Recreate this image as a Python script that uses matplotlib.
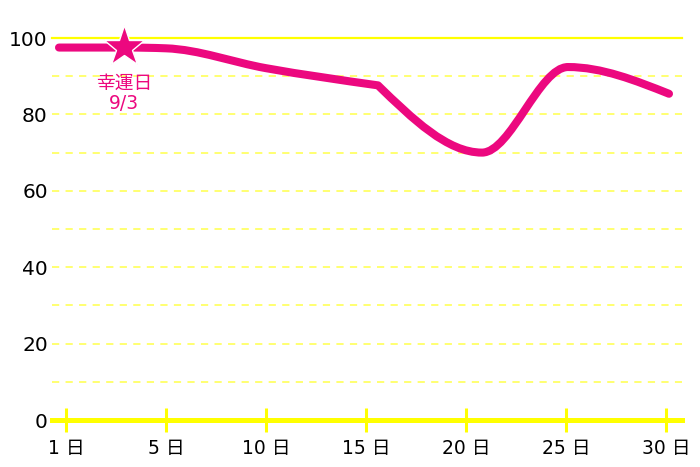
import matplotlib.pyplot as plt
from matplotlib.path import Path
from matplotlib.patches import PathPatch
import numpy as np

plt.rcParams['font.family'] = ['DejaVu Sans', 'Noto Sans CJK JP']

# Data
days = [-0.35, 3, 5, 10, 15.6, 20.8, 25.1, 30.15]
values = [97.5, 97.5, 97.3, 92.1, 87.6, 70.0, 92.4, 85.4]
kink_index = 4  # curve has a corner at this point
tick_pos = [0, 5, 10, 15, 20, 25, 30]
tick_labels = ['1 日', '5 日', '10 日', '15 日', '20 日', '25 日', '30 日']
lucky_day = 2.9
lucky_value = 97.6
lucky_label = '幸運日\n9/3'

PINK = '#EC087F'
YELLOW = '#FFFF00'


def monotone_verts(x, y):
    # monotone cubic (like d3 curveMonotoneX) as bezier segments
    x = np.asarray(x, float)
    y = np.asarray(y, float)
    n = len(x)
    h = np.diff(x)
    s = np.diff(y) / h
    m = np.zeros(n)
    for i in range(1, n - 1):
        p = (s[i - 1] * h[i] + s[i] * h[i - 1]) / (h[i - 1] + h[i])
        m[i] = (np.sign(s[i - 1]) + np.sign(s[i])) * min(abs(s[i - 1]), abs(s[i]), 0.5 * abs(p))
    m[0] = (3 * s[0] - m[1]) / 2 if n > 2 else s[0]
    m[-1] = (3 * s[-1] - m[-2]) / 2 if n > 2 else s[-1]
    verts = []
    for i in range(n - 1):
        dx = h[i] / 3
        verts += [(x[i] + dx, y[i] + m[i] * dx),
                  (x[i + 1] - dx, y[i + 1] - m[i + 1] * dx),
                  (x[i + 1], y[i + 1])]
    return verts


k = kink_index
verts = [(days[0], values[0])]
verts += monotone_verts(days[:k + 1], values[:k + 1])
verts += monotone_verts(days[k:], values[k:])
codes = [Path.MOVETO] + [Path.CURVE4] * (len(verts) - 1)
curve = Path(verts, codes)

fig = plt.figure(figsize=(7, 4.67), dpi=100)
ax = fig.add_axes([52 / 700, 47 / 467, 630 / 700, 382 / 467])
ax.set_xlim(-0.7, 30.8)
ax.set_ylim(0, 100)

for s in ax.spines.values():
    s.set_visible(False)

# grid
for g in range(10, 100, 10):
    ax.axhline(g, color='#FFFF66', lw=1.3, dashes=(4, 3.5), zorder=1)
ax.axhline(100, color=YELLOW, lw=1.6, zorder=1, clip_on=False)
ax.axhline(0, color=YELLOW, lw=3.6, zorder=2, clip_on=False)

ax.set_xticks(tick_pos)
ax.set_xticklabels(tick_labels, fontsize=13.5)
ax.tick_params(axis='x', direction='inout', length=17, width=2.2, color=YELLOW, pad=5)
ax.set_yticks(range(0, 101, 20))
ax.tick_params(axis='y', length=0, pad=3, labelsize=14.5)

ax.add_patch(PathPatch(curve, facecolor='none', edgecolor=PINK, lw=5.8,
                       capstyle='round', joinstyle='round', zorder=3, clip_on=False))

ax.plot([lucky_day], [lucky_value], marker='*', markersize=31, color=PINK,
        markeredgecolor='white', markeredgewidth=1, zorder=4, clip_on=False)
ax.text(lucky_day, lucky_value - 6.9, lucky_label, color=PINK, fontsize=13.5,
        ha='center', va='top', linespacing=1.1, zorder=4)

fig.savefig('out.png', dpi=100)
